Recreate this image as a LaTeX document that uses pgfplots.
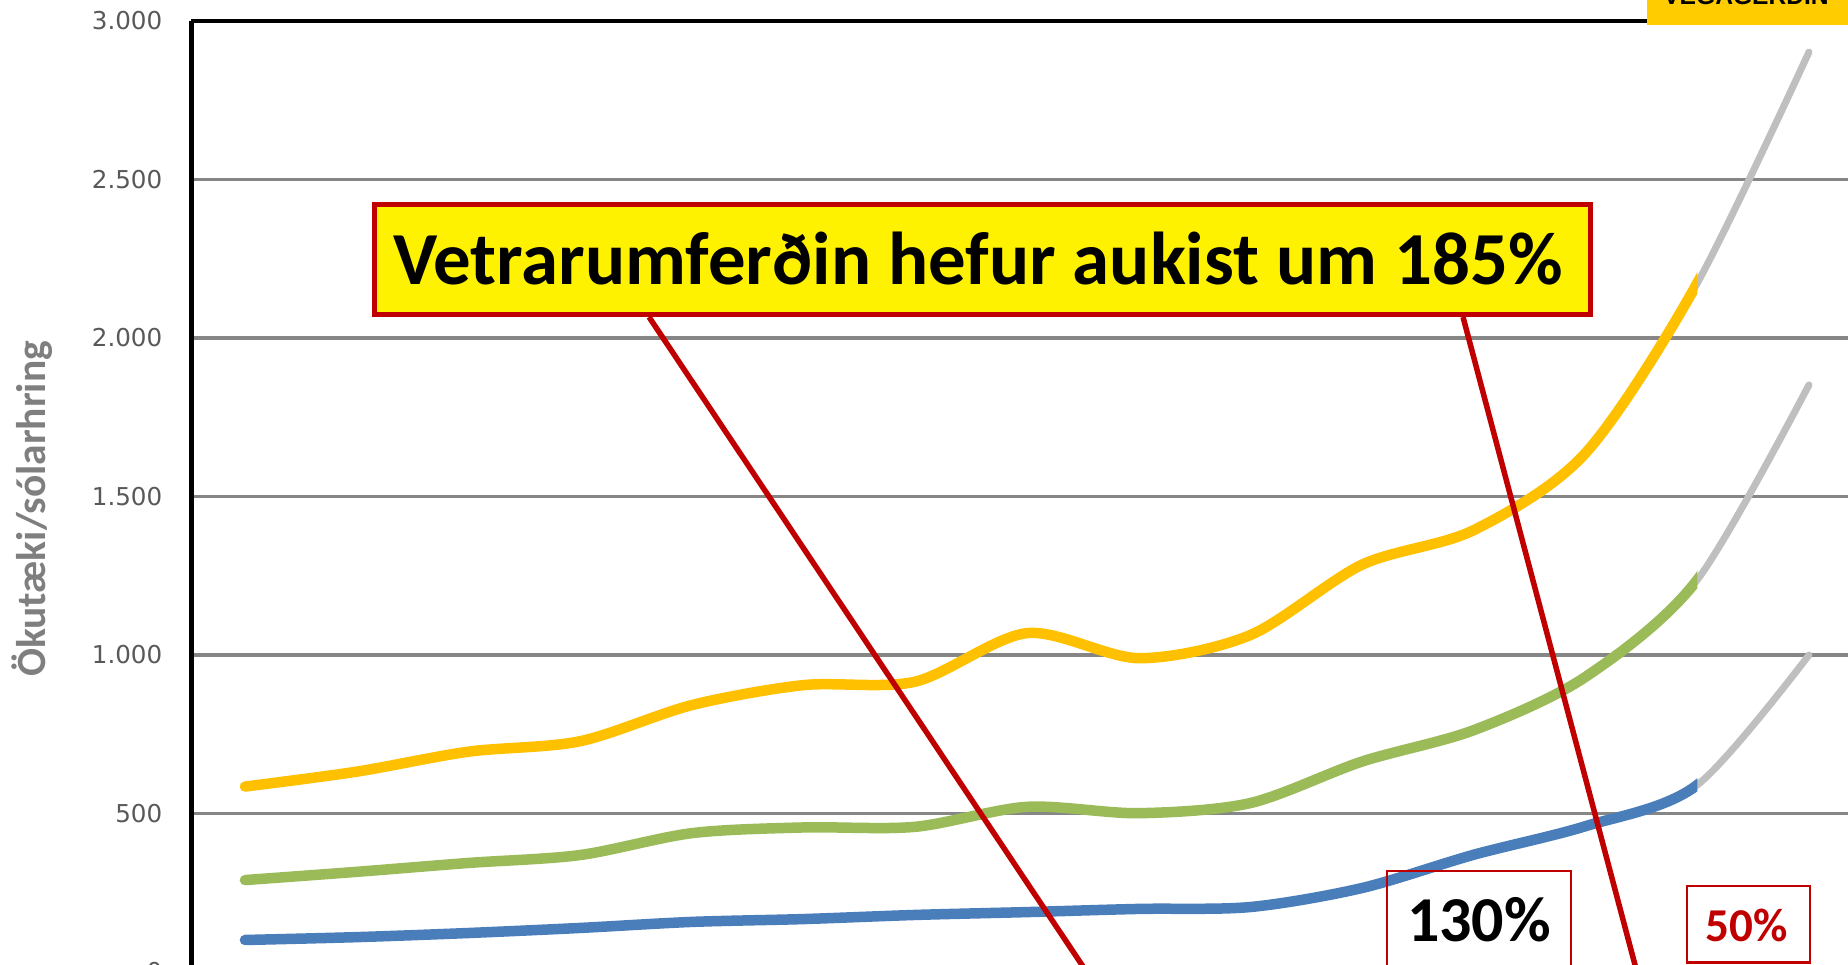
\documentclass[border=0pt]{standalone}
\usepackage{fontspec}
\setmainfont{Carlito}
\newfontfamily\tickfont{DejaVu Sans}
\newfontfamily\logofont{Liberation Sans}
\usepackage{pgfplots}
\usepackage{pgfplotstable}
\pgfplotsset{compat=1.18}

\definecolor{gul}{HTML}{FFC000}
\definecolor{graen}{HTML}{9BBB59}
\definecolor{blar}{HTML}{4A7EBB}
\definecolor{spa}{HTML}{BFBFBF}
\definecolor{gridgray}{HTML}{868686}
\definecolor{tickgray}{HTML}{595959}
\definecolor{labelgray}{HTML}{7F7F7F}
\definecolor{boxred}{HTML}{C00000}
\definecolor{logoyellow}{HTML}{FFCC00}

% i: year index, last point (14) is the projection drawn in grey
\pgfplotstableread{
i   gul   graen  blar
0   585   290    101
1   632   316    110
2   695   344    123
3   728   369    139
4   842   438    158
5   905   456    167
6   916   458    180
7   1069  521    189
8   990   501    199
9   1063  533    205
10  1285  664    265
11  1394  763    370
12  1637  931    460
13  2173  1237   590
14  2902  1852   1000
}\data

\begin{document}
\begin{tikzpicture}
\begin{axis}[
  scale only axis, width=167.38mm, height=95.1mm,
  at={(19.1mm,-0.8mm)}, anchor=south west,
  xmin=-0.483, xmax=14.5, ymin=0, ymax=3000,
  ytick={0,500,...,3000}, xtick=\empty,
  ymajorgrids, grid style={line width=0.33mm, color=gridgray},
  axis line style={draw=none},
  major tick length=0pt,
  yticklabel style={font=\tickfont\fontsize{7}{8}\selectfont, text=tickgray,
    inner sep=0pt, xshift=-2.8mm},
  /pgf/number format/1000 sep={.},
  /pgf/number format/assume math mode=true,
]
\addplot[spa, line width=0.7mm, line cap=round, smooth] table[x=i,y=gul]{\data};
\addplot[spa, line width=0.7mm, line cap=round, smooth] table[x=i,y=graen]{\data};
\addplot[spa, line width=0.7mm, line cap=round, smooth] table[x=i,y=blar]{\data};
\begin{scope}
\clip (axis cs:-1,-100) rectangle (axis cs:13,3100);
\addplot[gul, line width=1.05mm, line cap=round, smooth] table[x=i,y=gul]{\data};
\addplot[graen, line width=1.05mm, line cap=round, smooth] table[x=i,y=graen]{\data};
\addplot[blar, line width=1.05mm, line cap=round, smooth] table[x=i,y=blar]{\data};
\end{scope}
\end{axis}

% axis lines
\draw[line width=0.5mm] (19.1mm,-1mm) -- (19.1mm,94.3mm);
\draw[line width=0.45mm] (19.1mm,94.3mm) -- (186mm,94.3mm);

% y label
\node[rotate=90, text=labelgray, font=\bfseries\fontsize{11.8}{13}\selectfont]
  at (3.2mm,45.5mm) {Ökutæki/sólarhring};

% logo
\fill[logoyellow] (164.7mm,93.9mm) rectangle (186mm,97mm);
\node[anchor=base, inner sep=0pt, font=\logofont\bfseries\fontsize{7}{8}\selectfont]
  at (174.6mm,95.9mm) {VEGAGERÐIN};

% annotation
\draw[boxred, line width=0.55mm] (64.9mm,64.7mm) -- (109.2mm,-1.6mm);
\draw[boxred, line width=0.55mm] (146.3mm,64.7mm) -- (163.9mm,-1.6mm);
\draw[boxred, fill=yellow, line width=0.5mm] (37.4mm,64.9mm) rectangle (159.0mm,75.9mm);
\node[anchor=base, inner sep=0pt, font=\bfseries\fontsize{21.3}{24}\selectfont]
  at (97.8mm,67.9mm) {Vetrarumferðin hefur aukist um 185\%};

\draw[boxred, line width=0.25mm] (138.7mm,-1mm) rectangle (157.1mm,9.3mm);
\node[anchor=base, inner sep=0pt, font=\bfseries\fontsize{18.2}{20}\selectfont]
  at (147.9mm,2.3mm) {130\%};
\draw[boxred, line width=0.25mm] (168.7mm,0.15mm) rectangle (181.0mm,7.8mm);
\node[anchor=base, inner sep=0pt, text=boxred, font=\bfseries\fontsize{13.4}{15}\selectfont]
  at (174.7mm,2.3mm) {50\%};

\pgfresetboundingbox
\path[use as bounding box] (0,0) rectangle (184.8mm,96.4mm);
\end{tikzpicture}
\end{document}
